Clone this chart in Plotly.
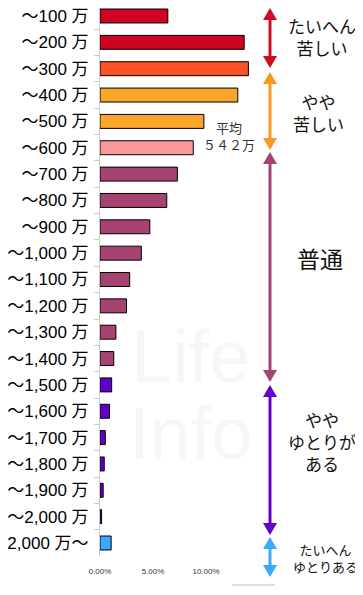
import plotly.graph_objects as go

W, H = 363, 595
OFF = 8  # default page body margin
FW, FH = W - OFF, H - 16

categories = ["〜100 万", "〜200 万", "〜300 万", "〜400 万", "〜500 万", "〜600 万",
              "〜700 万", "〜800 万", "〜900 万", "〜1,000 万", "〜1,100 万", "〜1,200 万",
              "〜1,300 万", "〜1,400 万", "〜1,500 万", "〜1,600 万", "〜1,700 万",
              "〜1,800 万", "〜1,900 万", "〜2,000 万", "2,000 万〜"]
values = [6.4, 13.6, 14.0, 13.0, 9.8, 8.8, 7.3, 6.3, 4.7, 3.9, 2.8, 2.5,
          1.5, 1.3, 1.1, 0.9, 0.5, 0.4, 0.3, 0.15, 1.05]
bar_colors = ["#CE0520", "#CE0520", "#FA5226", "#F9A62B", "#F9A62B", "#F99A9A",
              "#A74373", "#A74373", "#A74373", "#A74373", "#A74373", "#A74373",
              "#A74373", "#A74373", "#6300C7", "#6300C7", "#6300C7", "#6300C7",
              "#6300C7", "#6300C7", "#3AAAFF"]
tick_vals = [0, 5, 10]
tick_text = ["0.00%", "5.00%", "10.00%"]

FONT = "Liberation Sans, Noto Sans CJK JP, sans-serif"
JFONT = "Noto Sans CJK JP, sans-serif"


def px(x):
    return (x - OFF) / FW


def py(y):
    return 1 - (y - OFF) / FH


# category rows: first center at y=16, pitch 26.35 px
ROW0, PITCH = 16, 26.35
y_top, y_bot = 8, 556
yrange = [(y_bot - ROW0) / PITCH, (y_top - ROW0) / PITCH]

fig = go.Figure()
fig.add_trace(go.Bar(
    y=categories, x=values, orientation="h",
    marker=dict(color=bar_colors, line=dict(color="black", width=1)),
    hoverinfo="skip",
))

shapes = []
annotations = []

# watermark
for txt, yc in [("Life", 356), ("Info", 433)]:
    annotations.append(dict(text=txt, x=px(190), y=py(yc), xref="paper", yref="paper",
                            showarrow=False, xanchor="center", yanchor="middle",
                            font=dict(family="Liberation Sans, sans-serif", size=74,
                                      color="rgba(0,0,0,0.035)")))

# double-headed arrows
ax = 270
arrows = [(8, 68, "#CF0A22"), (72, 150, "#F8981F"), (152, 382, "#A74373"),
          (385, 535, "#6300C7"), (537, 577, "#3AAAFF")]
hl, hw = 12, 7
for top, bot, col in arrows:
    shapes.append(dict(type="line", xref="paper", yref="paper",
                       x0=px(ax), x1=px(ax), y0=py(top + hl - 1), y1=py(bot - hl + 1),
                       line=dict(color=col, width=3)))
    shapes.append(dict(type="path", xref="paper", yref="paper",
                       path=f"M {px(ax)} {py(top)} L {px(ax - hw)} {py(top + hl)} L {px(ax + hw)} {py(top + hl)} Z",
                       fillcolor=col, line=dict(width=0)))
    shapes.append(dict(type="path", xref="paper", yref="paper",
                       path=f"M {px(ax)} {py(bot)} L {px(ax - hw)} {py(bot - hl)} L {px(ax + hw)} {py(bot - hl)} Z",
                       fillcolor=col, line=dict(width=0)))

# right-side labels
labels = [("たいへん<br>苦しい", 322, 36, 17), ("やや<br>苦しい", 318, 112, 17),
          ("普通", 320, 258, 23), ("やや<br>ゆとりが<br>ある", 322, 441, 17),
          ("たいへん<br>ゆとりある", 325, 558, 13)]
for txt, x, y, s in labels:
    annotations.append(dict(text=txt, x=px(x), y=py(y), xref="paper", yref="paper",
                            showarrow=False, xanchor="center", yanchor="middle",
                            align="center", font=dict(family=JFONT, size=s, color="#111")))

annotations.append(dict(text="平均<br>５４２万", x=px(229), y=py(136), xref="paper", yref="paper",
                        showarrow=False, xanchor="center", yanchor="middle", align="center",
                        font=dict(family=JFONT, size=13, color="#333")))

shapes.append(dict(type="line", xref="paper", yref="paper", x0=px(232), x1=px(275),
                   y0=py(585), y1=py(585), line=dict(color="#dddddd", width=2)))

fig.update_layout(
    width=FW, height=FH, autosize=False,
    margin=dict(l=0, r=0, t=0, b=0),
    paper_bgcolor="white", plot_bgcolor="white",
    showlegend=False, bargap=0.47,
    shapes=shapes, annotations=annotations,
    xaxis=dict(domain=[px(100), px(260)], range=[0, 160 / 53 * 5],
               tickvals=tick_vals, ticktext=tick_text, showgrid=False, zeroline=False,
               showline=False, ticks="", ticklabelstandoff=9, automargin=False,
               tickfont=dict(family=FONT, size=8, color="#333")),
    yaxis=dict(domain=[py(y_bot), py(y_top)], range=yrange, showgrid=False,
               showline=True, linecolor="#cccccc", linewidth=1,
               ticks="outside", tickson="boundaries", ticklen=5, tickcolor="#cccccc",
               ticklabelstandoff=7, automargin=False,
               tickfont=dict(family=FONT, size=17, color="black")),
)

fig.write_html("out.html")
